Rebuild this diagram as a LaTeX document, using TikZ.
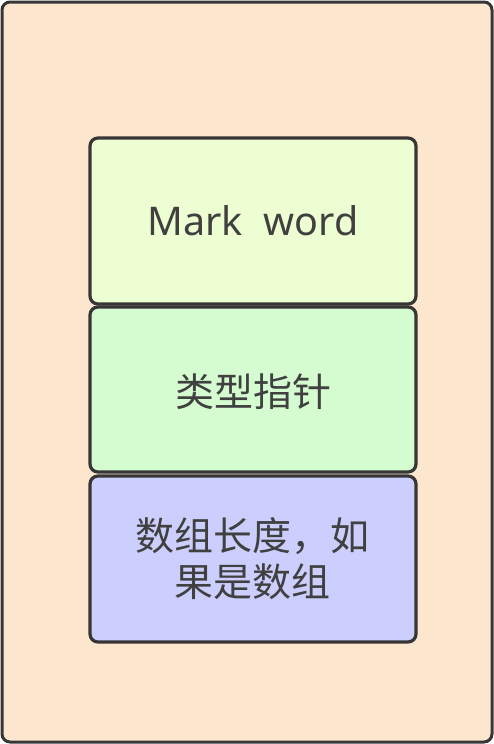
\documentclass[tikz,border=0pt]{standalone}
\usepackage{fontspec}
\setmainfont{Noto Sans}
\newfontfamily\cjk{Noto Sans CJK SC}
\definecolor{outerfill}{HTML}{FCE6CE}
\definecolor{boxa}{HTML}{EEFED3}
\definecolor{boxb}{HTML}{D5FCD0}
\definecolor{boxc}{HTML}{CCCFFD}
\definecolor{edge}{HTML}{363636}
\definecolor{txt}{HTML}{404040}
\begin{document}
\begin{tikzpicture}[x=1pt,y=-1pt,
  layer/.style={draw=edge,line width=3.2pt,rounded corners=8pt},
  lbl/.style={text=txt,align=center,font=\fontsize{39.5}{46}\selectfont},
  cjklbl/.style={lbl,font=\cjk\fontsize{39}{46}\selectfont}]
\useasboundingbox (0,0) rectangle (494,744);
\draw[layer,fill=outerfill,line width=3pt] (2,2) rectangle (492,742);
\draw[layer,fill=boxa] (90,138) rectangle (416,304);
\draw[layer,fill=boxb] (90,307) rectangle (416,472);
\draw[layer,fill=boxc] (90,476) rectangle (416,642);
\node[lbl] (mw) at (253,221) {Mark\ \ word};
\node[cjklbl] (tp) at (253,392) {类型指针};
\node[cjklbl] (al) at (252,559) {数组长度，如\\果是数组};
\end{tikzpicture}
\end{document}
